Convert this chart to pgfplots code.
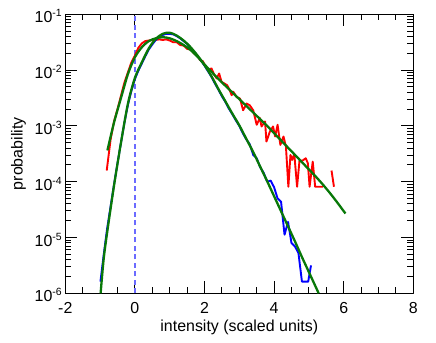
\documentclass[border=0pt]{standalone}
\usepackage{fontspec}
\setmainfont{Liberation Sans}
\usepackage{pgfplots}
\pgfplotsset{compat=1.18}
\usepackage{pgfplotstable}

\definecolor{datared}{HTML}{FF0000}
\definecolor{datablue}{HTML}{0000FF}
\definecolor{fitgreen}{HTML}{087808}
\definecolor{zeroline}{HTML}{6B6BFF}

% tick label 10^k in text font
\newcommand{\pw}[1]{10\raisebox{6bp}{\fontsize{10.5}{12}\selectfont #1}}

% wide distribution (red), log10 of probability
\pgfplotstableread{
x l
-0.81 -3.80
-0.70 -3.25
-0.60 -2.92
-0.50 -2.70
-0.40 -2.46
-0.30 -2.22
-0.20 -2.04
-0.10 -1.86
0.00 -1.74
0.10 -1.60
0.20 -1.52
0.30 -1.48
0.40 -1.47
0.50 -1.46
0.60 -1.46
0.70 -1.45
0.80 -1.46
0.90 -1.45
1.00 -1.47
1.10 -1.50
1.20 -1.50
1.30 -1.55
1.40 -1.56
1.50 -1.62
1.60 -1.63
1.70 -1.70
1.80 -1.74
1.87 -1.82
1.95 -1.84
2.03 -1.93
2.11 -2.00
2.20 -1.97
2.28 -2.08
2.35 -2.15
2.42 -2.06
2.49 -2.21
2.57 -2.24
2.65 -2.27
2.72 -2.35
2.78 -2.45
2.83 -2.39
2.92 -2.48
3.02 -2.51
3.11 -2.72
3.21 -2.60
3.30 -2.63
3.40 -2.72
3.50 -2.98
3.59 -2.86
3.64 -3.01
3.74 -2.92
3.78 -3.28
3.88 -3.10
3.97 -3.01
4.03 -3.19
4.10 -2.98
4.18 -3.34
4.27 -3.19
4.34 -3.37
4.41 -4.09
4.47 -3.52
4.52 -3.61
4.58 -3.50
4.66 -4.09
4.73 -3.62
4.82 -3.62
4.91 -3.58
4.97 -3.67
5.02 -4.09
5.11 -3.64
5.18 -4.09
5.40 -4.09
}\redA
\pgfplotstableread{
x l
5.65 -3.80
5.72 -4.09
}\redB

% narrow distribution (blue)
\pgfplotstableread{
x l
-0.99 -5.79
-0.90 -5.33
-0.80 -4.85
-0.70 -4.45
-0.60 -4.05
-0.50 -3.67
-0.40 -3.30
-0.30 -2.94
-0.20 -2.62
-0.10 -2.37
0.00 -2.16
0.10 -2.01
0.20 -1.88
0.30 -1.75
0.40 -1.63
0.50 -1.54
0.60 -1.46
0.70 -1.40
0.80 -1.37
0.90 -1.35
1.00 -1.35
1.10 -1.36
1.20 -1.39
1.30 -1.43
1.40 -1.48
1.50 -1.53
1.60 -1.60
1.70 -1.67
1.80 -1.75
1.90 -1.83
2.00 -1.92
2.10 -2.02
2.20 -2.12
2.30 -2.24
2.40 -2.35
2.50 -2.47
2.60 -2.57
2.70 -2.69
2.80 -2.79
2.90 -2.90
3.00 -3.00
3.10 -3.13
3.20 -3.24
3.30 -3.33
3.40 -3.52
3.50 -3.58
3.60 -3.74
3.70 -3.84
3.80 -4.00
3.90 -3.98
4.00 -4.10
4.10 -4.30
4.20 -4.36
4.30 -4.95
4.40 -4.72
4.50 -5.10
4.60 -5.16
4.70 -5.28
4.80 -5.79
4.90 -5.79
4.98 -5.79
5.06 -5.50
}\blueA

% fitted curves (green)
\pgfplotstableread{
x l
-0.79 -3.44
-0.60 -2.94
-0.40 -2.50
-0.20 -2.07
0.00 -1.77
0.20 -1.59
0.40 -1.48
0.60 -1.43
0.80 -1.41
1.00 -1.43
1.20 -1.48
1.40 -1.55
1.60 -1.64
1.80 -1.76
2.00 -1.90
2.20 -2.03
2.40 -2.16
2.60 -2.28
2.80 -2.40
3.00 -2.52
3.20 -2.64
3.40 -2.76
3.60 -2.88
3.80 -3.00
4.00 -3.13
4.20 -3.26
4.40 -3.39
4.60 -3.52
4.80 -3.65
5.00 -3.78
5.20 -3.91
5.40 -4.05
5.60 -4.20
5.80 -4.36
6.05 -4.57
}\fitA
\pgfplotstableread{
x l
-0.985 -6.00
-0.90 -5.40
-0.80 -4.92
-0.60 -4.07
-0.40 -3.30
-0.20 -2.60
0.00 -2.14
0.20 -1.86
0.40 -1.61
0.60 -1.44
0.80 -1.35
1.00 -1.33
1.20 -1.38
1.40 -1.47
1.60 -1.59
1.80 -1.74
2.00 -1.91
2.20 -2.11
2.40 -2.34
2.60 -2.56
2.80 -2.78
3.00 -2.99
3.20 -3.23
3.40 -3.47
3.60 -3.73
3.80 -3.99
4.00 -4.26
4.20 -4.53
4.40 -4.80
4.60 -5.07
4.80 -5.35
5.00 -5.62
5.20 -5.89
5.28 -6.00
}\fitB

\begin{document}
\begin{tikzpicture}
\path[use as bounding box] (-65.3bp,-49.7bp) rectangle (370.7bp,293.3bp);
\begin{axis}[
  scale only axis, width=348bp, height=279bp,
  xmin=-2, xmax=8,
  ymode=log, ymin=1e-6, ymax=1e-1,
  xtick={-2,0,2,4,6,8}, xticklabels={-2,0,2,4,6,8},
  minor x tick num=3,
  ytick={1e-6,1e-5,1e-4,1e-3,1e-2,1e-1},
  yticklabels={\pw{-6},\pw{-5},\pw{-4},\pw{-3},\pw{-2},\pw{-1}},
  minor ytick={2e-6,3e-6,4e-6,5e-6,6e-6,7e-6,8e-6,9e-6,
    2e-5,3e-5,4e-5,5e-5,6e-5,7e-5,8e-5,9e-5,
    2e-4,3e-4,4e-4,5e-4,6e-4,7e-4,8e-4,9e-4,
    2e-3,3e-3,4e-3,5e-3,6e-3,7e-3,8e-3,9e-3,
    2e-2,3e-2,4e-2,5e-2,6e-2,7e-2,8e-2,9e-2},
  tick align=inside,
  major tick length=12bp, minor tick length=6bp,
  axis line style={line width=1.1bp},
  every tick/.style={black, line width=0.9bp},
  font=\fontsize{16}{19}\selectfont,
  xticklabel style={yshift=-6bp},
  yticklabel style={yshift=-2bp},
  xlabel={intensity (scaled units)},
  ylabel={probability},
  xlabel style={at={(axis description cs:0.5,-0.122)}, anchor=center},
  ylabel style={at={(axis description cs:-0.1345,0.5)}, anchor=center},
  line join=round,
]
\addplot[zeroline, line width=1.2bp, dash pattern=on 5bp off 3.5bp]
  coordinates {(0,1e-6) (0,1e-1)};
\addplot[datared, line width=1.9bp] table[x=x, y expr={10^(\thisrow{l})}] {\redA};
\addplot[datared, line width=1.9bp] table[x=x, y expr={10^(\thisrow{l})}] {\redB};
\addplot[datablue, line width=1.9bp] table[x=x, y expr={10^(\thisrow{l})}] {\blueA};
\addplot[fitgreen, line width=2.3bp, smooth] table[x=x, y expr={10^(\thisrow{l})}] {\fitA};
\addplot[fitgreen, line width=2.3bp, smooth] table[x=x, y expr={10^(\thisrow{l})}] {\fitB};
\end{axis}
\end{tikzpicture}
\end{document}
